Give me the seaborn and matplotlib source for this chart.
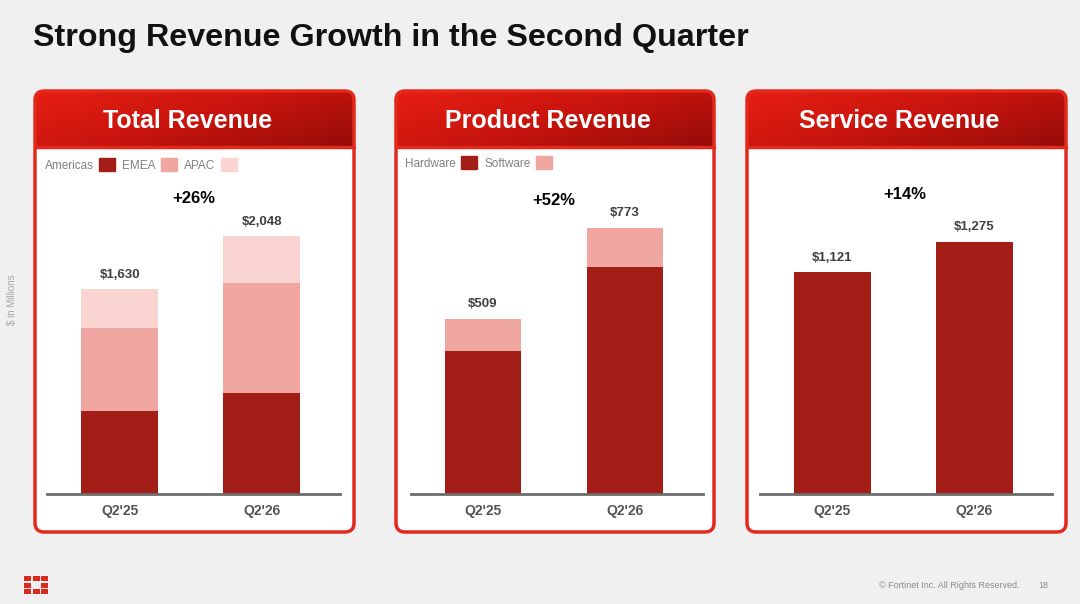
import numpy as np
import pandas as pd
import matplotlib.pyplot as plt
import seaborn as sns
from matplotlib.patches import FancyBboxPatch, Rectangle, Patch
from matplotlib.colors import LinearSegmentedColormap
import matplotlib.transforms as mtrans

sns.set_style("white")
plt.rcParams['font.family'] = ['Liberation Sans', 'DejaVu Sans']

## data ($ in millions)
quarters = ["Q2'25", "Q2'26"]
americas = [658, 807]
emea = [665, 873]
apac = [307, 368]
total_rev = [1630, 2048]
hardware = [415, 660]
software = [94, 113]
product_rev = [509, 773]
service_rev = [1121, 1275]
growth = ["+26%", "+52%", "+14%"]

DARK = '#a21e16'
MID = '#f1a7a1'
LIGHT = '#f9d4d1'
BORDER = '#e3281c'

fig = plt.figure(figsize=(10.8, 6.04), dpi=100)
fig.patch.set_facecolor('#f0f0f0')

# background axes in pixel units for the slide furniture
bg = fig.add_axes([0, 0, 1, 1])
bg.set_xlim(0, 1080)
bg.set_ylim(604, 0)
bg.axis('off')

bg.text(33, 38, "Strong Revenue Growth in the Second Quarter", fontsize=23.2,
        fontweight='bold', color='#111111', va='center', ha='left')

grad_cmap = LinearSegmentedColormap.from_list('hdr', ['#e61f12', '#c8140e', '#960c08'])
gx, gy = np.meshgrid(np.linspace(0, 1, 200), np.linspace(0, 1, 40))
grad = gx * 0.75 + gy * 0.45

panels = [(35, 354, "Total Revenue"), (396, 714, "Product Revenue"), (747, 1066, "Service Revenue")]
top, bottom, hdr = 91, 532, 146
for x0, x1, name in panels:
    body = FancyBboxPatch((x0, top), x1 - x0, bottom - top, boxstyle="round,pad=0,rounding_size=9",
                          facecolor='white', edgecolor='none', zorder=1)
    bg.add_patch(body)
    im = bg.imshow(grad, cmap=grad_cmap, extent=(x0, x1, hdr, top), aspect='auto', zorder=2)
    im.set_clip_path(body)
    bg.plot([x0, x1], [hdr + 1, hdr + 1], color=BORDER, lw=2.5, zorder=3)
    bg.add_patch(FancyBboxPatch((x0, top), x1 - x0, bottom - top, boxstyle="round,pad=0,rounding_size=9",
                                facecolor='none', edgecolor=BORDER, lw=2.5, zorder=4))
    bg.text((x0 + x1) / 2 - 7, 121, name, color='white', fontsize=18, fontweight='bold',
            ha='center', va='center', zorder=5)

bg.text(12, 300, "$ in Millions", rotation=90, fontsize=7, color='#a6a6a6', ha='center', va='center')

# legends
leg_kw = dict(loc='center left', bbox_transform=bg.transData, borderpad=0, borderaxespad=0,
              markerfirst=False, frameon=False, handlelength=1.35, handleheight=1.35,
              handletextpad=0.45, columnspacing=0.6, fontsize=8.5, labelcolor='#808080')
l1 = bg.legend([Patch(color=DARK), Patch(color=MID), Patch(color=LIGHT)], ["Americas", "EMEA", "APAC"],
               ncol=3, bbox_to_anchor=(45, 165), **leg_kw)
bg.add_artist(l1)
bg.legend([Patch(color=DARK), Patch(color=MID)], ["Hardware", "Software"],
          ncol=2, bbox_to_anchor=(405, 163), **leg_kw)

# footer logo and note
for cx, cy, w, h in [(24, 576, 7, 5), (32.5, 576, 7, 5), (41, 576, 7, 5),
                     (24, 582.5, 7, 5), (41, 582.5, 7, 5),
                     (24, 589, 7, 5), (32.5, 589, 7, 5), (41, 589, 7, 5)]:
    bg.add_patch(Rectangle((cx, cy), w, h, color='#da291c', lw=0))
bg.text(1020, 585, "© Fortinet Inc. All Rights Reserved.", fontsize=6.5, color='#8c8c8c', ha='right', va='center')
bg.text(1043, 585, "18", fontsize=6.5, color='#8c8c8c', ha='center', va='center')


def make_axes(c0, px_per_unit):
    # axes placed so that the first bar centre sits at c0, bars 142 px apart
    left = c0 - 0.51 * 142
    width = 2.06 * 142
    ax = fig.add_axes([left / 1080, 1 - 494 / 604, width / 1080, 344 / 604])
    ax.set_facecolor('none')
    ax._ylim_top = 344 / px_per_unit
    return ax


def finish(ax, totals, pct, pct_x, pct_y):
    # seaborn resets the limits on a categorical axis, so set them afterwards
    ax.set_xlim(-0.51, 1.55)
    ax.set_ylim(0, ax._ylim_top)
    for s in ['left', 'top', 'right']:
        ax.spines[s].set_visible(False)
    ax.spines['bottom'].set_color('#6d6d6d')
    ax.spines['bottom'].set_linewidth(2)
    ax.set_yticks([])
    ax.tick_params(axis='x', length=0, pad=7, labelsize=10, labelcolor='#555555')
    ax.bar_label(ax.containers[0], labels=[f"${v:,}" for v in totals], padding=6,
                 fontsize=9.5, fontweight='bold', color='#404040')
    for t in ax.get_xticklabels():
        t.set_fontweight('bold')
    ax.set_xlabel('')
    ax.set_ylabel('')
    ax.text(pct_x, pct_y, pct, transform=mtrans.blended_transform_factory(ax.transData, ax.transAxes),
            fontsize=12, fontweight='bold', color='black', ha='center', va='center')


bar_kw = dict(width=0.54, saturation=1, linewidth=0, errorbar=None)

# Total revenue - stacked by drawing cumulative totals back to front
tot = pd.DataFrame({'Quarter': quarters, 'Americas': americas, 'EMEA': emea, 'APAC': apac})
tot['Mid'] = tot['Americas'] + tot['EMEA']
tot['Top'] = tot['Mid'] + tot['APAC']
ax1 = make_axes(119.7, 205 / 1630)
sns.barplot(data=tot, x='Quarter', y='Top', color=LIGHT, ax=ax1, **bar_kw)
sns.barplot(data=tot, x='Quarter', y='Mid', color=MID, ax=ax1, **bar_kw)
sns.barplot(data=tot, x='Quarter', y='Americas', color=DARK, ax=ax1, **bar_kw)
finish(ax1, total_rev, growth[0], 0.523, 0.86)

# Product revenue
prod = pd.DataFrame({'Quarter': quarters, 'Hardware': hardware, 'Software': software})
prod['Top'] = prod['Hardware'] + prod['Software']
ax2 = make_axes(483, 175.3 / 509)
sns.barplot(data=prod, x='Quarter', y='Top', color=MID, ax=ax2, **bar_kw)
sns.barplot(data=prod, x='Quarter', y='Hardware', color=DARK, ax=ax2, **bar_kw)
finish(ax2, product_rev, growth[1], 0.5, 0.852)

# Service revenue
serv = pd.DataFrame({'Quarter': quarters, 'Service': service_rev})
ax3 = make_axes(832.3, 222 / 1121)
sns.barplot(data=serv, x='Quarter', y='Service', color=DARK, ax=ax3, **bar_kw)
finish(ax3, service_rev, growth[2], 0.51, 0.872)

fig.savefig("out.png", dpi=100, facecolor=fig.get_facecolor())
